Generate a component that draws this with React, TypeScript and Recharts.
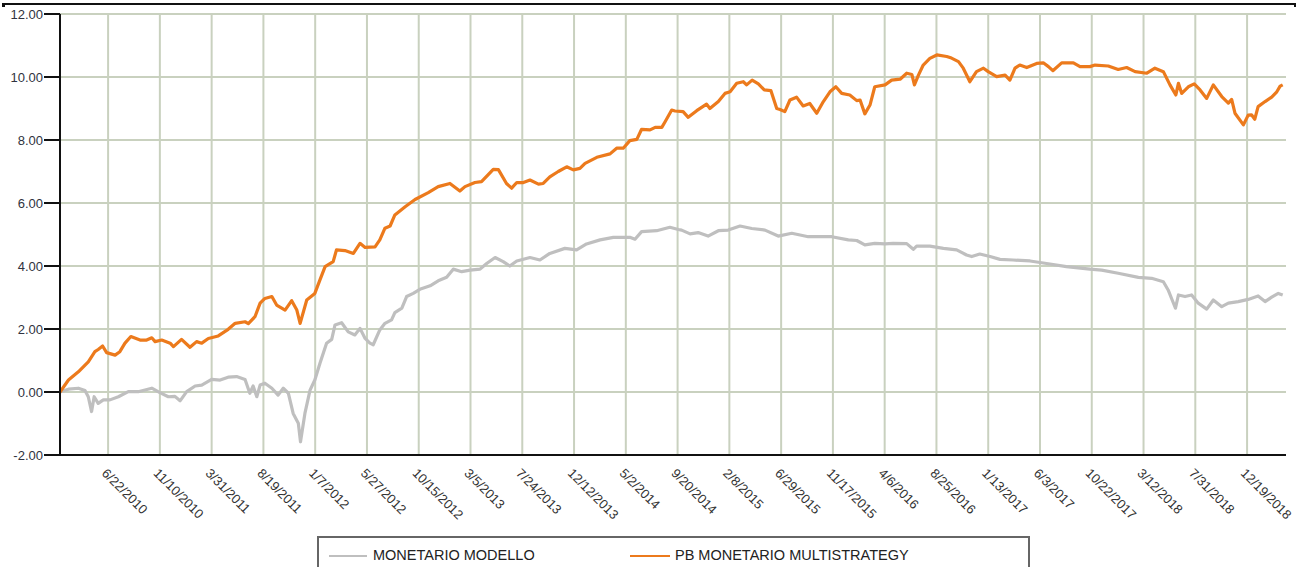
import { LineChart, Line, XAxis, YAxis, CartesianGrid } from 'recharts'

document.body.style.margin = '0'

const START_DATE = '2/11/2010'
const END_DATE = '4/4/2019'

const dateTicks = [
  '6/22/2010', '11/10/2010', '3/31/2011', '8/19/2011', '1/7/2012', '5/27/2012',
  '10/15/2012', '3/5/2013', '7/24/2013', '12/12/2013', '5/2/2014', '9/20/2014',
  '2/8/2015', '6/29/2015', '11/17/2015', '4/6/2016', '8/25/2016', '1/13/2017',
  '6/3/2017', '10/22/2017', '3/12/2018', '7/31/2018', '12/19/2018',
]
const yTicks = [-2, 0, 2, 4, 6, 8, 10, 12]

// days since START_DATE
const mmDays = [
  0, 23, 50, 68, 77, 86, 93, 104, 118, 136, 159, 186, 213, 250, 272, 295, 313, 327, 345, 368,
  386, 413, 436, 458, 481, 504, 517, 526, 536, 545, 558, 577, 594, 608, 622, 635, 649, 655, 667, 681,
  694, 708, 726, 740, 749, 767, 785, 803, 817, 831, 844, 853, 871, 885, 903, 912, 931, 944, 962, 980,
  1008, 1030, 1053, 1071, 1094, 1117, 1144, 1162, 1185, 1207, 1225, 1244, 1280, 1307, 1334, 1375, 1407, 1434, 1471, 1507,
  1552, 1566, 1584, 1625, 1661, 1684, 1693, 1716, 1738, 1765, 1793, 1820, 1852, 1884, 1920, 1956, 1993, 2038, 2102, 2147,
  2170, 2192, 2219, 2247, 2269, 2306, 2324, 2333, 2369, 2406, 2442, 2469, 2483, 2505, 2533, 2560, 2596, 2642, 2687, 2741,
  2805, 2837, 2882, 2937, 2973, 3005, 3018, 3029, 3038, 3046, 3064, 3082, 3100, 3123, 3141, 3164, 3182, 3209, 3236, 3263,
  3282, 3300, 3318, 3330,
]
const mmValues = [
  0, 0.09, 0.12, 0.05, -0.15, -0.62, -0.15, -0.36, -0.25, -0.25, -0.15, 0.01, 0.01, 0.12, -0.02, -0.15, -0.14, -0.28, 0.01, 0.19,
  0.22, 0.4, 0.38, 0.47, 0.49, 0.4, -0.04, 0.19, -0.15, 0.22, 0.28, 0.12, -0.1, 0.12, -0.04, -0.68, -0.99, -1.58, -0.68, 0.06,
  0.38, 0.91, 1.55, 1.67, 2.13, 2.2, 1.91, 1.81, 2.02, 1.7, 1.55, 1.5, 1.97, 2.18, 2.29, 2.52, 2.66, 3.03, 3.13, 3.26,
  3.37, 3.53, 3.64, 3.9, 3.82, 3.87, 3.9, 4.08, 4.27, 4.14, 4.0, 4.16, 4.27, 4.19, 4.4, 4.56, 4.51, 4.7, 4.83, 4.91,
  4.91, 4.85, 5.09, 5.12, 5.23, 5.16, 5.14, 5.02, 5.06, 4.95, 5.12, 5.14, 5.27, 5.19, 5.14, 4.95, 5.04, 4.93, 4.93, 4.83,
  4.81, 4.67, 4.72, 4.7, 4.72, 4.71, 4.53, 4.63, 4.63, 4.56, 4.51, 4.35, 4.3, 4.38, 4.3, 4.21, 4.19, 4.16, 4.08, 3.98,
  3.9, 3.87, 3.77, 3.64, 3.61, 3.5, 3.24, 2.92, 2.66, 3.08, 3.03, 3.08, 2.82, 2.63, 2.92, 2.71, 2.82, 2.87, 2.94, 3.05,
  2.87, 3.01, 3.13, 3.08,
]

const pbDays = [
  0, 23, 50, 77, 95, 104, 116, 127, 150, 163, 177, 193, 218, 236, 250, 259, 277, 300, 309, 331,
  354, 372, 386, 404, 431, 458, 477, 504, 513, 531, 545, 558, 577, 590, 613, 631, 645, 654, 672, 694,
  708, 722, 744, 753, 776, 799, 817, 831, 858, 871, 885, 899, 912, 940, 967, 1003, 1030, 1062, 1089, 1103,
  1130, 1148, 1180, 1194, 1216, 1230, 1244, 1262, 1280, 1303, 1316, 1334, 1357, 1380, 1398, 1416, 1430, 1462, 1498, 1516,
  1534, 1552, 1571, 1584, 1607, 1621, 1639, 1648, 1666, 1675, 1697, 1711, 1734, 1761, 1770, 1793, 1811, 1825, 1843, 1861,
  1870, 1885, 1902, 1918, 1936, 1952, 1961, 1974, 1988, 2006, 2024, 2042, 2061, 2079, 2097, 2113, 2129, 2151, 2170, 2179,
  2192, 2206, 2219, 2247, 2265, 2288, 2306, 2320, 2327, 2338, 2351, 2369, 2388, 2415, 2428, 2447, 2460, 2478, 2496, 2515,
  2528, 2551, 2574, 2587, 2601, 2614, 2633, 2660, 2678, 2692, 2704, 2728, 2760, 2778, 2805, 2819, 2855, 2882, 2905, 2928,
  2960, 2982, 3005, 3023, 3039, 3046, 3055, 3073, 3089, 3105, 3123, 3141, 3164, 3182, 3191, 3200, 3223, 3236, 3245, 3254,
  3263, 3282, 3300, 3314, 3323, 3330,
]
const pbValues = [
  0, 0.38, 0.64, 0.96, 1.28, 1.35, 1.46, 1.25, 1.17, 1.28, 1.55, 1.76, 1.65, 1.65, 1.72, 1.6, 1.65, 1.55, 1.44, 1.67,
  1.42, 1.6, 1.55, 1.7, 1.78, 1.99, 2.18, 2.23, 2.17, 2.39, 2.82, 2.97, 3.03, 2.76, 2.6, 2.9, 2.6, 2.18, 2.92, 3.13,
  3.56, 3.98, 4.14, 4.51, 4.49, 4.4, 4.72, 4.59, 4.61, 4.83, 5.2, 5.27, 5.62, 5.88, 6.11, 6.33, 6.52, 6.62, 6.38, 6.52,
  6.65, 6.68, 7.07, 7.06, 6.62, 6.47, 6.65, 6.65, 6.73, 6.6, 6.62, 6.83, 7.0, 7.15, 7.05, 7.1, 7.26, 7.45, 7.56, 7.74,
  7.74, 7.98, 8.02, 8.34, 8.32, 8.4, 8.4, 8.58, 8.95, 8.92, 8.9, 8.72, 8.93, 9.14, 9.0, 9.22, 9.48, 9.53, 9.8, 9.85,
  9.75, 9.9, 9.78, 9.59, 9.57, 9.0, 8.97, 8.9, 9.27, 9.36, 9.08, 9.16, 8.85, 9.22, 9.53, 9.69, 9.48, 9.43, 9.25, 9.27,
  8.83, 9.11, 9.69, 9.75, 9.9, 9.93, 10.12, 10.08, 9.75, 10.06, 10.38, 10.59, 10.7, 10.65, 10.6, 10.49, 10.28, 9.85, 10.17, 10.28,
  10.17, 10.01, 10.06, 9.9, 10.28, 10.38, 10.3, 10.43, 10.45, 10.33, 10.2, 10.45, 10.45, 10.33, 10.33, 10.38, 10.35, 10.24, 10.3, 10.17,
  10.12, 10.28, 10.17, 9.75, 9.43, 9.8, 9.48, 9.69, 9.78, 9.59, 9.32, 9.75, 9.38, 9.17, 9.29, 8.85, 8.48, 8.79, 8.8, 8.66,
  9.06, 9.22, 9.36, 9.53, 9.71, 9.75,
]

const GRAY = '#bfbfbf'
const ORANGE = '#ec7a1c'
const FONT = '"Liberation Sans", Arial, sans-serif'

const toDay = (s: string) => {
  const [m, d, y] = s.split('/').map(Number)
  const [m0, d0, y0] = START_DATE.split('/').map(Number)
  return Math.round((Date.UTC(y, m - 1, d) - Date.UTC(y0, m0 - 1, d0)) / 86400000)
}

const tickDays = dateTicks.map(toDay)
const endDay = toDay(END_DATE)

const mmData = mmDays.map((day, i) => ({ day, value: mmValues[i] }))
const pbData = pbDays.map((day, i) => ({ day, value: pbValues[i] }))

const DateTick = (props: any) => {
  const { x, y, payload } = props
  const label = dateTicks[tickDays.indexOf(payload.value)]
  return (
    <g transform={`translate(${x},${y})`}>
      <text
        x={-7}
        y={17}
        transform="rotate(45, -7, 17)"
        textAnchor="start"
        fill="#333"
        fontSize={13}
        fontFamily={FONT}
      >
        {label}
      </text>
    </g>
  )
}

export default function App() {
  return (
    <div style={{ position: 'relative', width: 1305, height: 567, overflow: 'hidden', background: '#fff' }}>
      <div style={{ position: 'absolute', left: 2, top: 3, width: 1294, height: 2, background: '#111' }} />
      <div style={{ position: 'absolute', left: 2, top: 3, width: 3, height: 4, background: '#111' }} />
      <div style={{ position: 'absolute', left: 1294, top: 3, width: 2, height: 4, background: '#111' }} />

      <LineChart width={1305} height={567} margin={{ top: 14, right: 19, left: 0, bottom: 32 }}>
        <CartesianGrid stroke="#c9d1bf" strokeWidth={2} syncWithTicks />
        <XAxis
          type="number"
          dataKey="day"
          domain={[0, endDay]}
          ticks={tickDays}
          interval={0}
          allowDataOverflow
          height={80}
          tickLine={false}
          tickSize={0}
          axisLine={{ stroke: '#111', strokeWidth: 2 }}
          tick={DateTick}
        />
        <YAxis
          type="number"
          domain={[-2, 12]}
          ticks={yTicks}
          interval={0}
          width={60}
          tickSize={16}
          tickMargin={1}
          tickFormatter={(v: number) => v.toFixed(2)}
          tick={{ fill: '#2f3340', fontSize: 13, fontFamily: FONT }}
          tickLine={{ stroke: '#111', strokeWidth: 2 }}
          axisLine={{ stroke: '#111', strokeWidth: 2 }}
        />
        <Line
          data={mmData}
          dataKey="value"
          type="linear"
          stroke={GRAY}
          strokeWidth={3.2}
          dot={false}
          strokeLinejoin="round"
          isAnimationActive={false}
        />
        <Line
          data={pbData}
          dataKey="value"
          type="linear"
          stroke={ORANGE}
          strokeWidth={3.2}
          dot={false}
          strokeLinejoin="round"
          isAnimationActive={false}
        />
      </LineChart>

      <div
        style={{
          position: 'absolute',
          left: 317,
          top: 536,
          width: 713,
          height: 60,
          border: '2px solid #666',
          boxSizing: 'border-box',
          fontFamily: FONT,
          fontSize: 14.5,
          color: '#222',
        }}
      >
        <div style={{ position: 'absolute', left: 10, top: 17, width: 38, height: 2, background: GRAY }} />
        <div style={{ position: 'absolute', left: 54, top: 9, whiteSpace: 'nowrap' }}>MONETARIO MODELLO</div>
        <div style={{ position: 'absolute', left: 311, top: 17, width: 40, height: 2, background: ORANGE }} />
        <div style={{ position: 'absolute', left: 356, top: 9, whiteSpace: 'nowrap' }}>PB MONETARIO MULTISTRATEGY</div>
      </div>
    </div>
  )
}
